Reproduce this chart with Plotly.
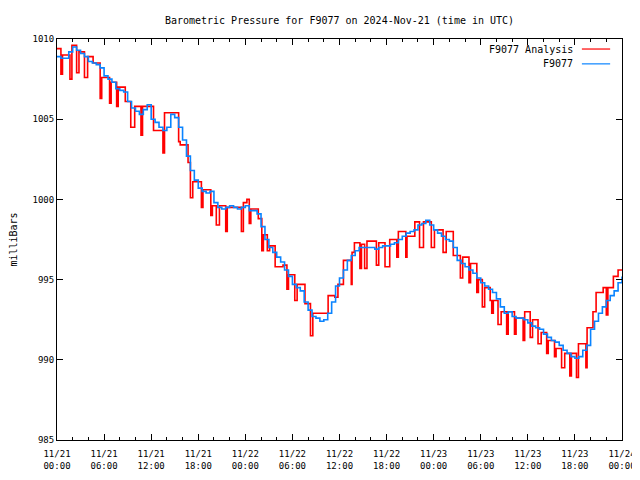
import pandas as pd
import plotly.graph_objects as go

start = pd.Timestamp("2024-11-21 00:00")

# F9077 observed pressure, half-hourly (hours since start, mb); one row = 6 hours
obs_hours = [h / 2 for h in range(0, 145)]
obs_values = [
    1008.9, 1008.8, 1008.8, 1009.2, 1009.5, 1009.3, 1009.1, 1008.9, 1008.6, 1008.5, 1008.4, 1008.2,
    1007.7, 1007.5, 1007.3, 1006.9, 1006.8, 1006.7, 1006.1, 1005.7, 1005.5, 1005.3, 1005.6, 1005.9,
    1005.0, 1004.8, 1004.5, 1004.3, 1004.5, 1005.3, 1005.1, 1004.5, 1003.7, 1002.7, 1001.8, 1001.2,
    1000.7, 1000.5, 1000.4, 1000.5, 999.8, 999.5, 999.4, 999.5, 999.6, 999.5, 999.4, 999.5,
    999.6, 999.3, 999.3, 999.1, 998.3, 997.5, 997.0, 996.7, 996.4, 996.1, 995.6, 995.2,
    994.7, 994.5, 994.3, 993.6, 993.1, 992.7, 992.6, 992.4, 992.5, 992.9, 993.6, 994.6,
    995.1, 995.6, 996.2, 996.5, 996.8, 997.0, 997.0, 997.0, 997.0, 996.9, 997.0, 997.1,
    997.1, 997.2, 997.3, 997.5, 997.7, 997.9, 998.0, 998.1, 998.4, 998.5, 998.7, 998.4,
    998.1, 997.9, 997.7, 997.5, 997.4, 997.0, 996.2, 996.0, 995.8, 995.6, 995.4, 995.1,
    994.8, 994.6, 994.4, 994.2, 993.8, 993.3, 992.9, 993.0, 992.7, 992.6, 992.6, 992.5,
    992.3, 992.1, 992.0, 991.9, 991.6, 991.4, 991.2, 991.1, 990.9, 990.6, 990.4, 990.2,
    990.1, 990.2, 990.6, 990.9, 991.9, 992.4, 992.9, 993.3, 993.7, 994.0, 994.3, 994.8,
    995.2]

# F9077 Analysis (step values, hours since start, mb)
ana_hours = [0, 0.5, 0.7, 1.65, 1.9, 2.5, 2.8, 3.5, 3.9, 4.6,
             5.5, 5.7, 6.7, 6.9, 7.6, 7.8, 8.7, 9.4, 9.9, 10.7,
             10.9, 12.3, 13.5, 13.7, 15.5, 15.7, 16.7, 17.0, 17.3, 18.4,
             18.6, 19.6, 19.8, 20.3, 20.7, 21.5, 21.7, 23.5, 23.75, 24.2,
             24.5, 24.7, 25.65, 26.1, 26.3, 26.8, 27.1, 27.8, 28.8, 29.3,
             29.5, 30.3, 30.6, 31.6, 32.3, 32.6, 34.55, 35.4, 35.8, 36.5,
             37.5, 37.6, 37.9, 38.6, 38.8, 39.2, 39.5, 40.7, 41.0, 41.8,
             42.4, 43.3, 43.5, 44.45, 44.6, 45.6, 46.2, 46.7, 47.7, 48.1,
             49.2, 49.6, 50.5, 51.4, 51.7, 52.5, 52.7, 53.5, 53.7, 54.2,
             54.5, 55.2, 55.4, 55.6, 56.2, 56.6, 57.3, 57.5, 58.3, 58.5,
             59.4, 59.6, 60.3, 60.6, 61.3, 61.7, 62.4, 62.6, 63.4, 63.6,
             64.3, 64.7, 65.35, 65.55, 66.2, 66.45, 67.4, 67.55, 68.3, 68.7,
             69.6, 70.0, 70.2, 70.9, 71.5, 72]
ana_values = [1009.4, 1007.8, 1009.0, 1007.5, 1009.6, 1007.9, 1009.2, 1007.6, 1008.9, 1008.5,
              1006.3, 1007.6, 1006.0, 1007.3, 1005.8, 1007.0, 1006.1, 1004.5, 1005.8, 1004.0,
              1005.8, 1004.3, 1002.9, 1005.4, 1003.6, 1003.4, 1002.3, 1000.1, 1001.1, 999.5,
              1000.6, 999.0, 999.6, 998.4, 999.6, 998.0, 999.5, 998.0, 999.8, 1000.0,
              998.5, 999.4, 998.8, 996.8, 997.8, 996.8, 997.1, 995.8, 995.9, 994.4,
              995.3, 993.7, 994.7, 993.5, 991.5, 992.9, 994.0, 993.9, 994.7, 996.2,
              994.7, 996.7, 997.3, 995.7, 997.2, 995.7, 997.4, 995.9, 997.3, 995.8,
              997.5, 996.4, 998.0, 996.4, 997.7, 998.6, 997.0, 998.6, 997.0, 998.1,
              996.7, 998.0, 996.5, 995.1, 996.4, 994.8, 996.0, 994.2, 995.0, 993.3,
              994.5, 993.7, 992.9, 993.7, 992.2, 993.0, 991.6, 993.0, 991.6, 992.6,
              991.2, 993.0, 991.4, 992.5, 991.0, 991.7, 990.4, 991.2, 990.2, 990.7,
              989.5, 990.4, 989.0, 990.4, 988.9, 991.0, 989.5, 992.0, 993.0, 994.2,
              994.5, 992.8, 994.5, 995.2, 995.6, 995.6]

n = min(len(ana_hours), len(ana_values))
m = min(len(obs_hours), len(obs_values))
ana_x = start + pd.to_timedelta(ana_hours[:n], unit="h")
obs_x = start + pd.to_timedelta(obs_hours[:m], unit="h")

FONT = "DejaVu Sans Mono"
RED = "#ff0000"
BLUE = "#0a84ff"

fig = go.Figure()
fig.add_trace(go.Scatter(x=ana_x, y=ana_values[:n], mode="lines", line=dict(color=RED, width=1.6, shape="hv"),
                         name="F9077 Analysis", showlegend=False))
fig.add_trace(go.Scatter(x=obs_x, y=obs_values[:m], mode="lines", line=dict(color=BLUE, width=1.6, shape="hv"),
                         name="F9077", showlegend=False))

# legend drawn gnuplot-style (text right, sample line after)
for label, color, yp in [("F9077 Analysis", RED, 0.975), ("F9077", BLUE, 0.938)]:
    fig.add_annotation(xref="paper", yref="paper", x=0.917, y=yp, text=label, showarrow=False,
                       xanchor="right", yanchor="middle", font=dict(family=FONT, size=10, color="black"))
    fig.add_shape(type="line", xref="paper", yref="paper", x0=0.929, x1=0.979, y0=yp, y1=yp,
                  line=dict(color=color, width=1.2))

fig.update_layout(
    width=632, height=464,
    margin=dict(l=49, r=18, t=31, b=32),
    paper_bgcolor="white", plot_bgcolor="white",
    font=dict(family=FONT, size=9, color="black"),
    title=dict(text="Barometric Pressure for F9077 on 2024-Nov-21 (time in UTC)",
               x=0.5, xanchor="center", xref="paper", y=1 - 12 / 464, yanchor="middle", yref="container",
               font=dict(family=FONT, size=10, color="black")),
)
fig.update_xaxes(range=[start, start + pd.Timedelta(hours=72)], tickmode="linear", tick0=start,
                 dtick=6 * 3600 * 1000, tickformat="%m/%d<br>%H:%M", ticks="inside", ticklen=6,
                 tickcolor="black", showline=True, linecolor="black", linewidth=1, mirror="allticks",
                 showgrid=False, zeroline=False, automargin=False, ticklabelstandoff=5,
                 ticklabeloverflow="allow",
                 minor=dict(dtick=2 * 3600 * 1000, ticks="inside", ticklen=3, tickcolor="black", showgrid=False),
                 tickfont=dict(family=FONT, size=9))
fig.update_yaxes(range=[985, 1010], tickmode="linear", tick0=985, dtick=5, ticks="inside", ticklen=6,
                 tickcolor="black", showline=True, linecolor="black", linewidth=1, mirror="allticks",
                 showgrid=False, zeroline=False, automargin=False,
                 title=dict(text="milliBars", font=dict(family=FONT, size=10), standoff=24),
                 tickfont=dict(family=FONT, size=9))

fig.write_html("out.html",
               post_script="document.documentElement.style.overflow='hidden';"
                           "document.body.style.overflow='hidden';")
